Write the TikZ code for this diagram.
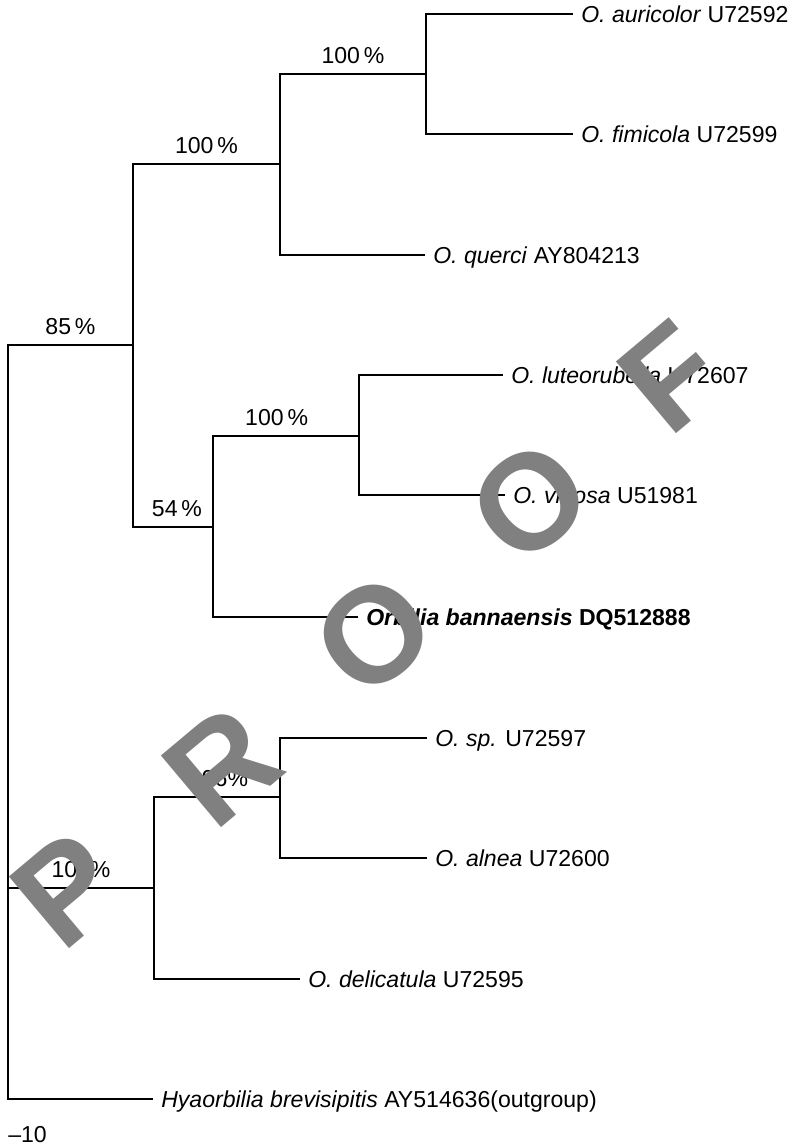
\documentclass[tikz,border=0pt]{standalone}
\usepackage{fontspec}
\setmainfont{Liberation Sans}
\usetikzlibrary{positioning}
\newcommand{\taxon}[1]{\textit{#1}}

\begin{document}
\begin{tikzpicture}[x=0.75pt,y=-0.75pt,font=\fontsize{17.3}{20}\selectfont,
  branch/.style={line width=0.8pt},
  leaf/.style={anchor=west,inner xsep=6pt,inner ysep=0pt,text height=16pt,text depth=3.6pt},
  support/.style={above=6pt,inner sep=1pt},
  stamp/.style={text=black!50,font=\fontsize{102}{102}\selectfont\bfseries,rotate=40,inner sep=0pt}]
  \useasboundingbox (0,0) rectangle (794,1147);
  % clades
  \coordinate (root) at (8,722);
  \coordinate (n85) at (133,345);
  \coordinate (n100up) at (280,164);
  \coordinate (n100top) at (426,74);
  \coordinate (n54) at (213,527);
  \coordinate (n100mid) at (359,436);
  \coordinate (n100low) at (154,888);
  \coordinate (n96) at (280,797);
  % tips
  \node[leaf] (auricolor) at (573,14) {\taxon{O. auricolor} U72592};
  \node[leaf] (fimicola) at (573,134) {\taxon{O. fimicola} U72599};
  \node[leaf] (querci) at (425,255) {\taxon{O. querci} AY804213};
  \node[leaf] (luteo) at (503,375) {\taxon{O. luteorubella} U72607};
  \node[leaf] (vinosa) at (505,495) {\taxon{O. vinosa} U51981};
  \node[leaf] (banna) at (358,617) {\textbf{\taxon{Orbilia bannaensis} DQ512888}};
  \node[leaf] (osp) at (427,738) {\taxon{O. sp.} U72597};
  \node[leaf] (alnea) at (427,858) {\taxon{O. alnea} U72600};
  \node[leaf] (delicatula) at (300,979) {\taxon{O. delicatula} U72595};
  \node[leaf] (outgroup) at (153,1099) {\taxon{Hyaorbilia brevisipitis} AY514636(outgroup)};
  \node[anchor=west,inner sep=0pt] (scale) at (8,1135) {\textendash10};
  % branches
  \draw[branch] (root) |- node[support,pos=0.75] {85\,\%} (n85);
  \draw[branch] (n85) |- node[support,pos=0.75] {100\,\%} (n100up);
  \draw[branch] (n100up) |- node[support,pos=0.75] {100\,\%} (n100top);
  \draw[branch] (n100top) |- (auricolor.west);
  \draw[branch] (n100top) |- (fimicola.west);
  \draw[branch] (n100up) |- (querci.west);
  \draw[branch] (n85) |- node[support,pos=0.75,xshift=3pt] {54\,\%} (n54);
  \draw[branch] (n54) |- node[support,pos=0.75,xshift=-7pt] {100\,\%} (n100mid);
  \draw[branch] (n100mid) |- (luteo.west);
  \draw[branch] (n100mid) |- (vinosa.west);
  \draw[branch] (n54) |- (banna.west);
  \draw[branch] (root) |- node[support,pos=0.75] {100\%} (n100low);
  \draw[branch] (n100low) |- node[support,pos=0.75,xshift=6pt] {96\%} (n96);
  \draw[branch] (n96) |- (osp.west);
  \draw[branch] (n96) |- (alnea.west);
  \draw[branch] (n100low) |- (delicatula.west);
  \draw[branch] (root) |- (outgroup.west);
  % watermark
  \foreach \ch/\x/\y [count=\i] in {P/67/889,R/222/766,O/374/635,O/530/502,F/671/377} \node[stamp] (stamp\i) at (\x,\y) {\ch};
\end{tikzpicture}
\end{document}
